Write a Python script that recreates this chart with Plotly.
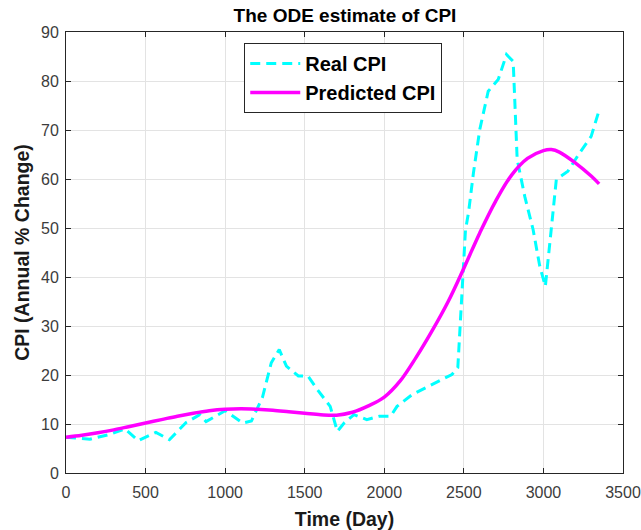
import plotly.graph_objects as go

# Real CPI
real_day = [0, 150, 265, 370, 455, 565, 650, 755, 840, 880, 1000, 1110, 1165, 1235,
            1290, 1340, 1385, 1460, 1520, 1580, 1660, 1705, 1750, 1810, 1890, 1970,
            2040, 2080, 2175, 2300, 2425, 2462, 2476, 2497, 2510, 2530, 2560, 2600, 2653, 2716,
            2768, 2810, 2835, 2883, 2935, 2977, 3012, 3049, 3081, 3154, 3227, 3300, 3345]
real_cpi = [7.3, 6.9, 7.8, 9.0, 6.6, 8.3, 6.8, 10.3, 11.9, 10.5, 12.7, 10.2, 10.6, 15.5,
            22.5, 25.2, 21.8, 19.8, 19.8, 17.0, 13.6, 8.5, 10.3, 11.9, 10.9, 11.6,
            11.6, 13.6, 16.0, 18.1, 20.1, 21.5, 29.3, 42.9, 49.5, 53.3, 61.2, 70.1, 77.9, 80.3,
            85.4, 84.0, 64.0, 56.4, 49.7, 42.2, 38.1, 49.7, 59.9, 61.6, 65.3, 68.7, 73.5]

# Predicted CPI (ODE estimate)
pred_day = [0, 100, 200, 300, 400, 500, 600, 700, 800, 900, 1000, 1100, 1200, 1300,
            1400, 1500, 1600, 1700, 1800, 1900, 2000, 2100, 2200, 2300, 2400, 2500,
            2600, 2700, 2800, 2900, 3000, 3050, 3100, 3200, 3300, 3350]
pred_cpi = [7.3, 7.7, 8.2, 8.8, 9.5, 10.2, 10.9, 11.6, 12.2, 12.7, 13.0, 13.1, 13.0, 12.8,
            12.5, 12.2, 11.9, 11.8, 12.4, 13.7, 15.5, 18.8, 23.6, 29.0, 34.9, 41.8,
            49.0, 55.5, 60.8, 64.2, 65.8, 66.0, 65.5, 63.3, 60.6, 59.0]

x_ticks = [0, 500, 1000, 1500, 2000, 2500, 3000, 3500]
y_ticks = [0, 10, 20, 30, 40, 50, 60, 70, 80, 90]

FONT = "Liberation Sans, Arial, sans-serif"
TICKC = "#3c3c3c"

fig = go.Figure()
fig.add_trace(go.Scatter(x=real_day, y=real_cpi, mode="lines", name="Real CPI",
                         line=dict(color="#00FFFF", width=3, dash="10px,6px")))
fig.add_trace(go.Scatter(x=pred_day, y=pred_cpi, mode="lines", name="Predicted CPI",
                         line=dict(color="#FF00FF", width=3.5, shape="spline")))

axis_common = dict(showline=True, linecolor="#262626", linewidth=1, mirror="ticks",
                   ticks="inside", ticklen=5, tickcolor="#262626", automargin=False,
                   showgrid=True, gridcolor="#e3e3e3", gridwidth=1, zeroline=False,
                   ticklabeloverflow="allow",
                   tickfont=dict(family=FONT, size=16, color=TICKC))

fig.update_xaxes(range=[0, 3500], tickvals=x_ticks, ticklabelstandoff=5, **axis_common,
                 title=dict(text="Time (Day)", standoff=12,
                            font=dict(family=FONT, size=19.5, color="#1a1a1a", weight="bold")))
fig.update_yaxes(range=[0, 90], tickvals=y_ticks, ticklabelstandoff=3, **axis_common,
                 title=dict(text="CPI (Annual % Change)", standoff=6,
                            font=dict(family=FONT, size=19.5, color="#1a1a1a", weight="bold")))

fig.update_layout(
    width=641, height=530,
    margin=dict(l=66, r=18, t=32, b=57, autoexpand=False),
    paper_bgcolor="white", plot_bgcolor="white",
    title=dict(text="The ODE estimate of CPI", x=345 / 641, xanchor="center",
               y=1 - 15 / 530, yanchor="middle", yref="container",
               font=dict(family=FONT, size=19, color="black", weight="bold"),
               automargin=False),
    legend=dict(x=0.32, y=0.975, xanchor="left", yanchor="top",
                bgcolor="white", bordercolor="#262626", borderwidth=1,
                font=dict(family=FONT, size=20, color="black", weight="bold"),
                itemwidth=50, tracegroupgap=0),
    showlegend=True,
)

fig.write_html("out.html", config={"displayModeBar": False},
               post_script="document.body.style.margin='0';")
